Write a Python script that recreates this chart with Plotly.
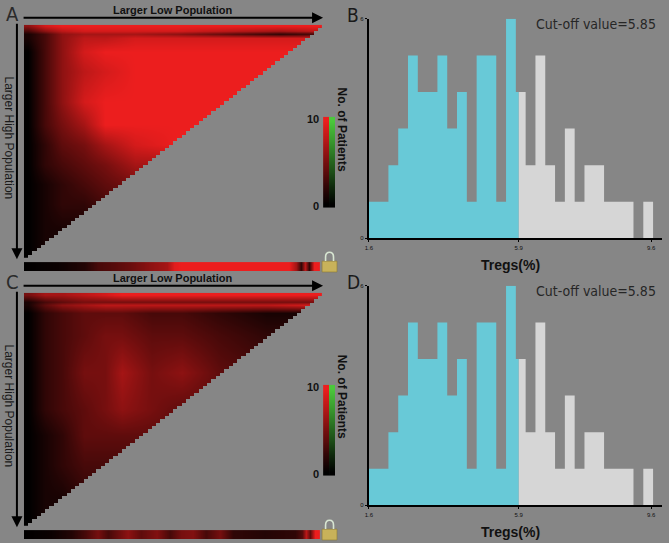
import numpy as np
import plotly.graph_objects as go

W, H = 669, 543
BG = '#868686'
RED = '#ec1e1e'
GREEN = '#4cc83c'
CYAN = '#68c9d7'
GREY = '#d6d6d6'

# ---- histogram of Tregs(%) (panels B and D show the same data)
bin_start = 1.6
bin_width = 0.2778
counts = [1, 1, 2, 3, 5, 4, 4, 5, 3, 4, 1, 5, 5, 1, 6, 4, 2, 5, 2, 1, 3, 1, 2, 2, 1, 1, 1, 0, 1]
cutoff = 5.85
x_ticks = [1.6, 5.85, 9.6]
x_ticktext = ['1.6', '5.9', '9.6']
y_ticks = [0, 6]

# ---- X-tile triangle, panel A (rows = high cut, cols = low cut, 0..grid_n)
grid_n = 70
a_cols = [1, 5, 9, 14, 19, 26, 36, 48, 60, 68]
a_rows = [0.3, 1.8, 2.8, 4, 8, 14, 23, 30, 36, 42, 48, 54, 62, 69]
a_vals = [
    [6, 9, 10, 10, 10, 10, 10, 10, 10, 10],
    [3, 6, 8, 9, 9, 9, 9, 8, 7, 8],
    [1, 3, 6, 7, 7, 7, 6, 4, 2, 3],
    [1, 3, 6, 8, 8, 9, 9, 9, 9, 9],
    [0, 3, 6, 9, 10, 10, 10, 10, 10, 10],
    [0, 3, 6, 8, 9, 10, 10, 10, 10, 10],
    [0, 3, 6, 9, 10, 10, 10, 10, 10, 10],
    [0, 3, 5, 7, 10, 10, 10, 10, 10, 10],
    [0, 2, 4, 5, 7, 9, 10, 10, 10, 10],
    [0, 2, 3, 4, 5, 7, 7, 7, 7, 7],
    [0, 1, 2, 3, 4, 5, 6, 6, 6, 6],
    [0, 1, 2, 2, 3, 4, 4, 4, 4, 4],
    [0, 1, 1, 1, 2, 2, 2, 2, 2, 2],
    [0, 1, 1, 1, 1, 1, 1, 1, 1, 1],
]
a_strip_pos = [0, 8.2, 14.4, 17.5, 20.6, 25.3, 30, 33.8, 35.4, 37, 62.6, 64.2, 65.5, 66.5, 67.4, 68.6, 69.5]
a_strip = [0, 0.5, 1.5, 3, 3.5, 4.5, 6, 7, 9.5, 10, 10, 7, 2, 8, 2, 10, 10]

# ---- X-tile triangle, panel C
c_cols = [1, 5, 9, 14, 19, 23, 30, 37, 46, 57, 67]
c_rows = [0.6, 2.6, 3.6, 6, 13, 24, 35, 43, 52, 62, 69]
c_vals = [
    [5, 7, 7, 8, 9, 10, 10, 10, 10, 10, 10],
    [1, 3, 4, 5, 5, 5, 5, 5, 5, 5, 5],
    [1, 4, 6, 7, 8, 8, 8, 8, 8, 8, 9],
    [0, 2, 3, 4, 4, 4, 3, 3, 2, 1, 1],
    [0, 2, 3, 4, 5, 5, 4, 4, 3, 2, 2],
    [0, 2, 3, 5, 5, 7, 5, 6, 4, 3, 3],
    [0, 2, 3, 4, 5, 6, 5, 4, 4, 4, 4],
    [0, 1, 2, 4, 4, 4, 4, 4, 4, 4, 4],
    [0, 1, 2, 3, 3, 3, 3, 3, 3, 3, 3],
    [0, 1, 1, 2, 2, 2, 2, 2, 2, 2, 2],
    [0, 1, 1, 1, 1, 1, 1, 1, 1, 1, 1],
]
c_strip_pos = [0, 6.6, 11.3, 14.4, 17.5, 19.8, 24.5, 27.6, 31.5, 34.6, 37, 40, 43, 46.3, 49.4, 57,
               64, 65.7, 66.7, 67.7, 68.8, 69.5]
c_strip = [0, 0.5, 1.5, 3, 5, 3, 6, 4, 5.5, 3, 5, 5.5, 3, 5, 2, 1.5, 2, 3.5, 8, 4, 10, 10]

cb_levels = list(range(0, 11))


def px_x(x0, x1):
    return [x0 / W, x1 / W]


def px_y(y0, y1):
    return [1 - y1 / H, 1 - y0 / H]


def ref(i):
    return ('x', 'y') if i == 1 else (f'x{i}', f'y{i}')


def note(text, x, y, size, color='#111111', family='Liberation Sans, Arial, sans-serif', **kw):
    d = dict(text=text, x=x / W, y=1 - y / H, xref='paper', yref='paper', showarrow=False,
             xanchor='center', yanchor='middle', font=dict(size=size, color=color, family=family))
    d.update(kw)
    return d


NARROW = 'Liberation Sans Narrow, DejaVu Sans Condensed, sans-serif'

fig = go.Figure()
layout = {}
annotations = []
shapes = []

red_scale = [[0, '#000000'], [1, RED]]
green_scale = [[0, '#000000'], [1, GREEN]]
grey_scale = [[0, BG], [1, BG]]

# cells outside the triangle (no valid low/high cut pair) are hidden; a couple of extra
# cells past the edge keep the clip border clean
m = grid_n + 2
mask = [[1 if r + c >= grid_n else None for c in range(m)] for r in range(m)]
cells = np.arange(m) + 0.5

left_panels = [
    ('A', a_rows, a_cols, a_vals, a_strip_pos, a_strip, 0),
    ('C', c_rows, c_cols, c_vals, c_strip_pos, c_strip, 271),
]

for k, (letter, rows, cols, vals, s_pos, s_vals, dy) in enumerate(left_panels):
    i_hm, i_st, i_cb = 1 + 4 * k, 2 + 4 * k, 3 + 4 * k
    hidden = dict(visible=False, fixedrange=True)

    xa, ya = ref(i_hm)
    fig.add_trace(go.Heatmap(x=cols, y=rows, z=vals, zmin=0, zmax=10, colorscale=red_scale,
                             zsmooth='best', showscale=False, hoverinfo='skip', xaxis=xa, yaxis=ya))
    fig.add_trace(go.Heatmap(x=cells, y=cells, z=mask, zmin=0, zmax=1, colorscale=grey_scale,
                             zsmooth=False, showscale=False, hoverinfo='skip', xaxis=xa, yaxis=ya))
    layout[xa.replace('x', 'xaxis')] = dict(domain=px_x(20, 320), range=[0, grid_n], anchor=ya, **hidden)
    layout[ya.replace('y', 'yaxis')] = dict(domain=px_y(22 + dy, 258 + dy), range=[grid_n, 0], anchor=xa, **hidden)

    xa, ya = ref(i_st)
    fig.add_trace(go.Heatmap(x=s_pos, y=[0, 1], z=[s_vals, s_vals], zmin=0, zmax=10, colorscale=red_scale,
                             zsmooth='best', showscale=False, hoverinfo='skip', xaxis=xa, yaxis=ya))
    layout[xa.replace('x', 'xaxis')] = dict(domain=px_x(20, 318), range=[0, grid_n], anchor=ya, **hidden)
    layout[ya.replace('y', 'yaxis')] = dict(domain=px_y(262 + dy, 271 + dy), range=[-0.5, 1.5], anchor=xa, **hidden)

    xa, ya = ref(i_cb)
    cb_z = [[v, v] for v in cb_levels]
    fig.add_trace(go.Heatmap(x=[0, 1], y=cb_levels, z=cb_z, zmin=0, zmax=10, colorscale=red_scale,
                             zsmooth='best', showscale=False, hoverinfo='skip', xaxis=xa, yaxis=ya))
    fig.add_trace(go.Heatmap(x=[2, 3], y=cb_levels, z=cb_z, zmin=0, zmax=10, colorscale=green_scale,
                             zsmooth='best', showscale=False, hoverinfo='skip', xaxis=xa, yaxis=ya))
    layout[xa.replace('x', 'xaxis')] = dict(domain=px_x(321, 333), range=[-0.5, 3.5], anchor=ya, **hidden)
    layout[ya.replace('y', 'yaxis')] = dict(domain=px_y(115 + dy, 207 + dy), range=[-0.5, 10.5], anchor=xa, **hidden)

    annotations += [
        note(letter, 0, 11 + dy, 20, color='#2a2a2a', family=NARROW, xanchor='left'),
        note('<b>Larger Low Population</b>', 170, 7 + dy, 11),
        note('Larger High Population', 5, 137 + dy, 12, color='#1a1a1a', textangle=90),
        note('<b>10</b>', 319, 117 + dy, 11, xanchor='right'),
        note('<b>0</b>', 319, 205 + dy, 11, xanchor='right'),
        # arrows
        dict(text='', x=321 / W, y=1 - (15 + dy) / H, xref='paper', yref='paper', ax=-301, ay=0,
             showarrow=True, arrowhead=2, arrowsize=1.1, arrowwidth=2, arrowcolor='#000000'),
        dict(text='', x=13 / W, y=1 - (259 + dy) / H, xref='paper', yref='paper', ax=0, ay=-237,
             showarrow=True, arrowhead=2, arrowsize=1.1, arrowwidth=2, arrowcolor='#000000'),
    ]

    # lock icon
    ly = 261 + dy
    shapes += [
        dict(type='rect', xref='paper', yref='paper', x0=320 / W, x1=335 / W, y0=1 - (ly + 11) / H, y1=1 - ly / H,
             fillcolor='#c8b25a', line=dict(color='#8c7a34', width=0.6)),
        dict(type='path', xref='paper', yref='paper',
             path=f'M {323.5 / W},{1 - ly / H} L {323.5 / W},{1 - (ly - 4) / H} '
                  f'Q {323.5 / W},{1 - (ly - 9) / H} {327.5 / W},{1 - (ly - 9) / H} '
                  f'Q {331.5 / W},{1 - (ly - 9) / H} {331.5 / W},{1 - (ly - 4) / H} L {331.5 / W},{1 - ly / H}',
             line=dict(color='#d8e6d2', width=1.6)),
    ]

# ---- histograms B and D, drawn as filled step outlines split at the cut-off
edges = [bin_start + j * bin_width for j in range(len(counts))]
low_x = [e for e in edges if e < cutoff] + [cutoff]
low_y = counts[:len(low_x) - 1] + [counts[len(low_x) - 2]]
n_low = len(low_x) - 1
high_x = [cutoff] + edges[n_low:] + [edges[-1] + bin_width]
high_y = [counts[n_low - 1]] + counts[n_low:] + [counts[-1]]

for k, (letter, dy) in enumerate([('B', 0), ('D', 270)]):
    i_h = 4 + 4 * k
    xa, ya = ref(i_h)
    for sx, sy, col in [(low_x, low_y, CYAN), (high_x, high_y, GREY)]:
        fig.add_trace(go.Scatter(x=sx, y=sy, mode='lines', line=dict(shape='hv', width=0, color=col),
                                 fill='tozeroy', fillcolor=col, hoverinfo='skip', xaxis=xa, yaxis=ya))
    tickfont = dict(size=6, color='#111111', family='Liberation Sans, Arial, sans-serif')
    layout[xa.replace('x', 'xaxis')] = dict(
        domain=px_x(367, 662), range=[1.6, 9.91], anchor=ya, showline=True, linecolor='#000000', linewidth=2,
        tickvals=x_ticks, ticktext=x_ticktext, ticks='outside', ticklen=2, tickwidth=1, tickcolor='#000000',
        tickfont=tickfont, showgrid=False, zeroline=False, fixedrange=True)
    layout[ya.replace('y', 'yaxis')] = dict(
        domain=px_y(16 + dy, 238 + dy), range=[0, 6], anchor=xa, showline=True, linecolor='#000000', linewidth=2,
        tickvals=y_ticks, ticks='outside', ticklen=2, tickwidth=1, tickcolor='#000000',
        tickfont=tickfont, showgrid=False, zeroline=False, fixedrange=True)

    annotations += [
        note(letter, 343, 12 + dy, 19, color='#1a1a1a', family=NARROW, xanchor='left'),
        note('Cut-off value=5.85', 658, 21 + dy, 14, color='#262626', family=NARROW, xanchor='right'),
        note('<b>No. of Patients</b>', 340, 128 + dy, 12, textangle=90),
        note('<b>Tregs(%)</b>', 510, 265 + dy, 14),
    ]

fig.update_layout(
    width=W, height=H, margin=dict(l=0, r=0, t=0, b=0),
    paper_bgcolor=BG, plot_bgcolor='rgba(0,0,0,0)',
    showlegend=False,
    annotations=annotations, shapes=shapes,
    **layout,
)

fig.write_html('out.html', config={'displayModeBar': False},
               post_script="document.body.style.margin='0';document.body.style.overflow='hidden';")
